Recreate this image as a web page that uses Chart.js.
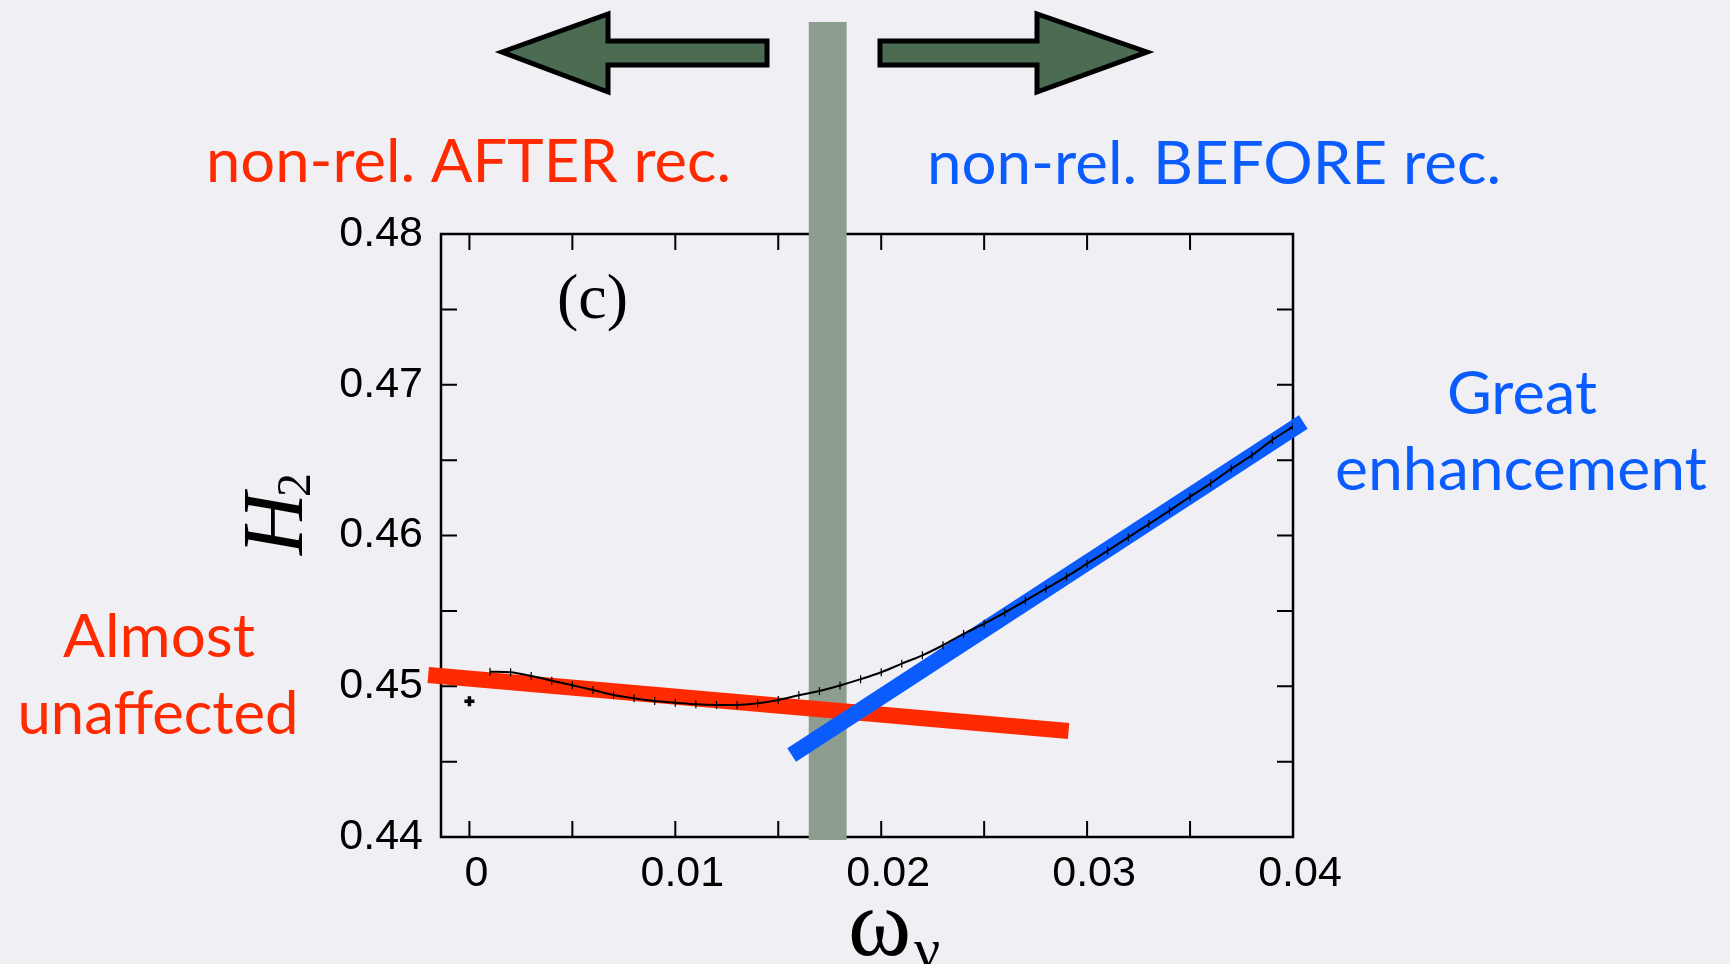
<!DOCTYPE html>
<html>
<head>
<meta charset="utf-8">
<script src="https://cdn.jsdelivr.net/npm/chart.js@4.4.1/dist/chart.umd.min.js"></script>
<style>
html, body { margin: 0; padding: 0; background: #efeff4; }
canvas { display: block; }
</style>
</head>
<body>
<canvas id="h2-chart" width="1730" height="964"></canvas>
<script>
// computed H2 curve vs omega_nu
const omega_nu = [
	0.001, 0.002, 0.003, 0.004, 0.005, 0.006, 0.007, 0.008, 0.009, 0.010,
	0.011, 0.012, 0.013, 0.014, 0.015, 0.016, 0.017, 0.018, 0.019, 0.020,
	0.021, 0.022, 0.023, 0.024, 0.025, 0.026, 0.027, 0.028, 0.029, 0.030,
	0.031, 0.032, 0.033, 0.034, 0.035, 0.036, 0.037, 0.038, 0.039, 0.040,
];
const h2_values = [
	0.45097, 0.45093, 0.45068, 0.45037, 0.45006, 0.44975, 0.44942, 0.44920, 0.44902, 0.44891,
	0.44880, 0.44876, 0.44876, 0.44887, 0.44909, 0.44940, 0.44968, 0.45005, 0.45047, 0.45093,
	0.45150, 0.45205, 0.45272, 0.45347, 0.45415, 0.45488, 0.45568, 0.45647, 0.45727, 0.45813,
	0.45899, 0.45988, 0.46076, 0.46165, 0.46257, 0.46346, 0.46443, 0.46532, 0.46634, 0.46722,
];

// massless neutrino point
const massless_omega = [0];
const massless_h2 = [0.4490];

// the two guide lines drawn over the plot
const red_guide_omega = [-0.0020, 0.0291];
const red_guide_h2 = [0.45075, 0.44703];
const blue_guide_omega = [0.01565, 0.0405];
const blue_guide_h2 = [0.44544, 0.46753];

// grey band (non-rel. at recombination)
const recomb_band = [0.01648, 0.01832];

// axes
const x_tick_values = [0, 0.005, 0.01, 0.015, 0.02, 0.025, 0.03, 0.035, 0.04];
const x_tick_labels = ["0", "", "0.01", "", "0.02", "", "0.03", "", "0.04"];
const y_tick_values = [0.44, 0.445, 0.45, 0.455, 0.46, 0.465, 0.47, 0.475, 0.48];
const y_tick_labels = ["0.44", "", "0.45", "", "0.46", "", "0.47", "", "0.48"];

const RED = "#ff2a00";
const BLUE = "#0a5cff";
const TICK_LEN = 16;

const to_points = (xs, ys) => xs.map((x, i) => ({ x: x, y: ys[i] }));

// fits a text line to a measured width
function fit_text(ctx, text, x, y, width, align) {
	const w = ctx.measureText(text).width;
	ctx.save();
	ctx.translate(x, y);
	ctx.scale(width / w, 1);
	ctx.textAlign = align;
	ctx.fillText(text, 0, 0);
	ctx.restore();
}

function arrow(ctx, pts) {
	ctx.beginPath();
	pts.forEach((p, i) => (i ? ctx.lineTo(p[0], p[1]) : ctx.moveTo(p[0], p[1])));
	ctx.closePath();
	ctx.fillStyle = "#4b6b53";
	ctx.fill();
	ctx.lineJoin = "miter";
	ctx.lineWidth = 5;
	ctx.strokeStyle = "#000";
	ctx.stroke();
}

const background_plugin = {
	id: "background",
	beforeDraw(chart) {
		const ctx = chart.ctx;
		ctx.save();
		ctx.fillStyle = "#efeff4";
		ctx.fillRect(0, 0, chart.width, chart.height);
		ctx.restore();
	},
};

// box frame with inward ticks, then the grey band
const frame_plugin = {
	id: "frame",
	beforeDatasetsDraw(chart) {
		const { ctx, chartArea: a, scales } = chart;
		ctx.save();
		ctx.strokeStyle = "#000";
		ctx.lineWidth = 2.5;
		ctx.strokeRect(a.left, a.top, a.right - a.left, a.bottom - a.top);
		ctx.lineWidth = 2;
		ctx.beginPath();
		scales.x.ticks.forEach((t) => {
			const px = scales.x.getPixelForValue(t.value);
			ctx.moveTo(px, a.bottom);
			ctx.lineTo(px, a.bottom - TICK_LEN);
			ctx.moveTo(px, a.top);
			ctx.lineTo(px, a.top + TICK_LEN);
		});
		scales.y.ticks.forEach((t) => {
			const py = scales.y.getPixelForValue(t.value);
			ctx.moveTo(a.left, py);
			ctx.lineTo(a.left + TICK_LEN, py);
			ctx.moveTo(a.right, py);
			ctx.lineTo(a.right - TICK_LEN, py);
		});
		ctx.stroke();

		const b0 = scales.x.getPixelForValue(recomb_band[0]);
		const b1 = scales.x.getPixelForValue(recomb_band[1]);
		ctx.fillStyle = "#8d9e8f";
		ctx.fillRect(b0, 22, b1 - b0, a.bottom + 3 - 22);
		ctx.restore();
	},
};

const labels_plugin = {
	id: "labels",
	afterDraw(chart) {
		const { ctx, chartArea: a } = chart;
		ctx.save();
		ctx.textBaseline = "alphabetic";

		// panel label
		ctx.fillStyle = "#000";
		ctx.font = "64px 'Liberation Serif'";
		ctx.textAlign = "left";
		ctx.fillText("(c)", 557, 318);

		// x title: omega_nu
		ctx.font = "96px 'Liberation Serif'";
		ctx.fillText("\u03c9", 848, 955);
		ctx.font = "58px 'Liberation Serif'";
		ctx.fillText("\u03bd", 914, 968);

		// y title: H_2, rotated
		ctx.save();
		ctx.translate(302, 555);
		ctx.rotate(-Math.PI / 2);
		ctx.font = "italic 86px 'Liberation Serif'";
		ctx.fillText("H", 0, 0);
		const hw = ctx.measureText("H").width;
		ctx.font = "48px 'Liberation Serif'";
		ctx.fillText("2", hw - 4, 8);
		ctx.restore();

		// annotations
		ctx.font = "60px Lato";
		ctx.fillStyle = RED;
		fit_text(ctx, "non-rel. AFTER rec.", 206, 182, 525, "left");
		fit_text(ctx, "Almost", 159, 657, 192, "center");
		fit_text(ctx, "unaffected", 158, 734, 281, "center");
		ctx.fillStyle = BLUE;
		fit_text(ctx, "non-rel. BEFORE rec.", 927, 184, 574, "left");
		fit_text(ctx, "Great", 1522, 414, 150, "center");
		fit_text(ctx, "enhancement", 1521, 490, 372, "center");

		// direction arrows
		arrow(ctx, [[502, 52], [608, 14], [608, 41], [767, 41], [767, 65], [608, 65], [608, 92]]);
		arrow(ctx, [[1147, 52], [1037, 14], [1037, 41], [880, 41], [880, 65], [1037, 65], [1037, 92]]);
		ctx.restore();
	},
};

new Chart(document.getElementById("h2-chart"), {
	type: "line",
	data: {
		datasets: [
			{
				label: "H2",
				data: to_points(omega_nu, h2_values),
				borderColor: "#000",
				borderWidth: 2,
				tension: 0.3,
				cubicInterpolationMode: "monotone",
				pointStyle: "line",
				pointRotation: 90,
				pointRadius: 4,
				pointBorderWidth: 1.2,
				pointBorderColor: "#000",
			},
			{
				label: "massless",
				data: to_points(massless_omega, massless_h2),
				showLine: false,
				pointStyle: "cross",
				pointRadius: 5,
				pointBorderWidth: 3.5,
				pointBorderColor: "#000",
			},
			{
				label: "before rec.",
				data: to_points(blue_guide_omega, blue_guide_h2),
				borderColor: BLUE,
				borderWidth: 16,
				borderCapStyle: "butt",
				pointRadius: 0,
				clip: false,
			},
			{
				label: "after rec.",
				data: to_points(red_guide_omega, red_guide_h2),
				borderColor: RED,
				borderWidth: 16,
				borderCapStyle: "butt",
				pointRadius: 0,
				clip: false,
			},
		],
	},
	options: {
		responsive: false,
		animation: false,
		layout: { padding: { left: 321, right: 437, top: 234, bottom: 0 } },
		plugins: { legend: { display: false }, tooltip: { enabled: false } },
		scales: {
			x: {
				type: "linear",
				min: -0.00138,
				max: 0.04,
				afterBuildTicks: (s) => {
					s.ticks = x_tick_values.map((v) => ({ value: v }));
				},
				afterFit: (s) => {
					s.height = 127;
				},
				grid: { display: false, drawTicks: false },
				border: { display: false },
				ticks: {
					autoSkip: false,
					maxRotation: 0,
					padding: 11,
					labelOffset: 7,
					color: "#000",
					font: { family: "'Liberation Sans'", size: 43 },
					callback: (v, i) => x_tick_labels[i],
				},
			},
			y: {
				type: "linear",
				min: 0.44,
				max: 0.48,
				afterBuildTicks: (s) => {
					s.ticks = y_tick_values.map((v) => ({ value: v }));
				},
				afterFit: (s) => {
					s.width = 120;
				},
				grid: { display: false, drawTicks: false },
				border: { display: false },
				ticks: {
					autoSkip: false,
					padding: 18,
					color: "#000",
					font: { family: "'Liberation Sans'", size: 43 },
					callback: (v, i) => y_tick_labels[i],
				},
			},
		},
	},
	plugins: [background_plugin, frame_plugin, labels_plugin],
});
</script>
</body>
</html>
